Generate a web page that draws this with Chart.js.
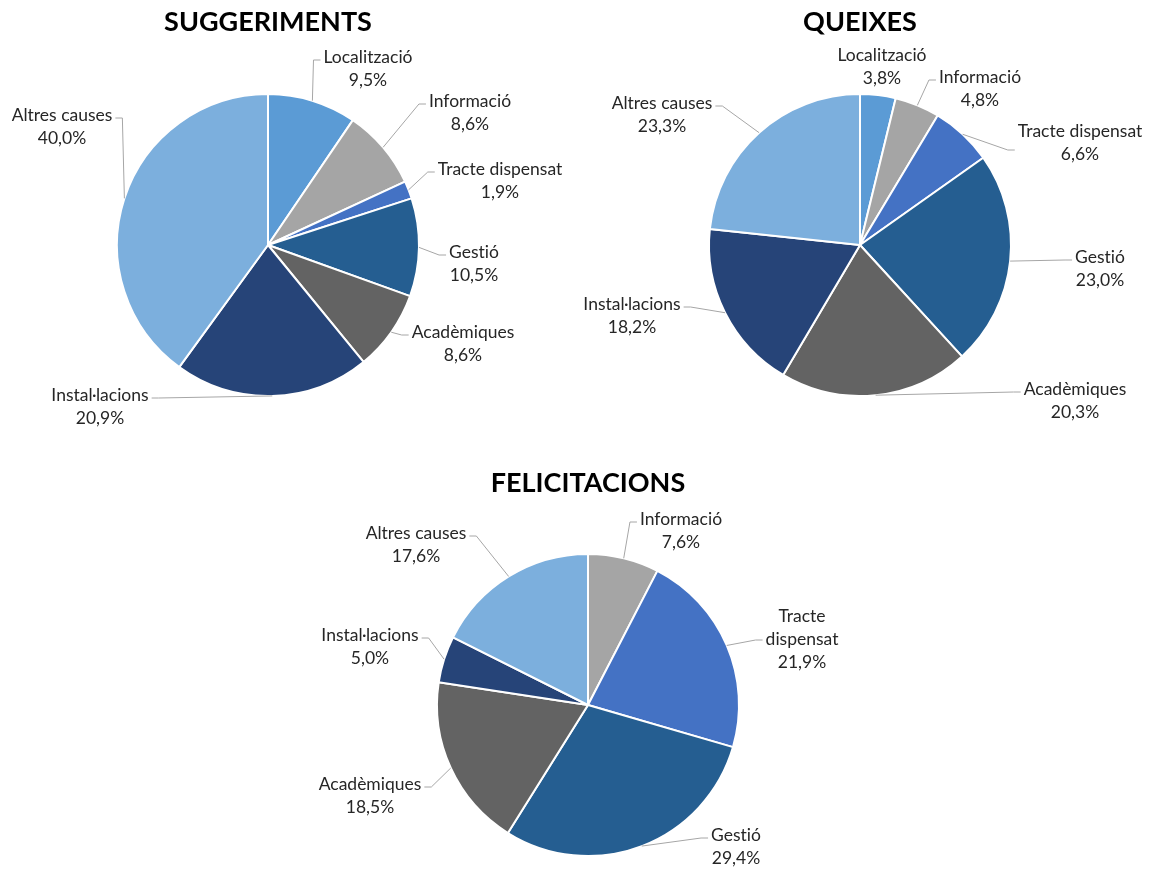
<!DOCTYPE html>
<html>
<head>
<meta charset="utf-8">
<script src="https://cdn.jsdelivr.net/npm/chart.js@4.4.1/dist/chart.umd.min.js"></script>
<style>
  html, body { margin: 0; padding: 0; background: #fff; }
  #page { position: relative; width: 1163px; height: 870px; overflow: hidden; }
  .box { position: absolute; }
</style>
</head>
<body>
<div id="page">
  <div class="box" style="left:-52px; top:0; width:640px; height:440px;"><canvas id="sugg"></canvas></div>
  <div class="box" style="left:540px; top:0; width:640px; height:440px;"><canvas id="queix"></canvas></div>
  <div class="box" style="left:268px; top:460px; width:640px; height:410px;"><canvas id="felic"></canvas></div>
</div>
<script>
// data (percentages)
const categories = ['Localització', 'Informació', 'Tracte dispensat', 'Gestió', 'Acadèmiques', 'Instal·lacions', 'Altres causes'];
const suggeriments = [9.5, 8.6, 1.9, 10.5, 8.6, 20.9, 40.0];
const queixes = [3.8, 4.8, 6.6, 23.0, 20.3, 18.2, 23.3];
const felicitacions = [0, 7.6, 21.9, 29.4, 18.5, 5.0, 17.6];

const palette = ['#5b9bd5', '#a5a5a5', '#4472c4', '#255e91', '#636363', '#264478', '#7cafdd'];

// where each callout sits, relative to the pie centre (first text line centre)
const suggLabelPos = [
  { dx: 100, dy: -188 }, { dx: 202, dy: -144 }, { dx: 232, dy: -76 }, { dx: 206, dy: 7 },
  { dx: 195, dy: 87 }, { dx: -168, dy: 150 }, { dx: -206, dy: -130 }
];
const queixLabelPos = [
  { dx: 22, dy: -190 }, { dx: 120, dy: -168 }, { dx: 220, dy: -114, ty: 19 }, { dx: 240, dy: 12 },
  { dx: 215, dy: 144 }, { dx: -228, dy: 59 }, { dx: -198, dy: -142 }
];
const felicLabelPos = [
  null, { dx: 93, dy: -186 }, { dx: 214, dy: -89, wrap: 90, ty: 24 }, { dx: 148, dy: 130 },
  { dx: -218, dy: 79 }, { dx: -218, dy: -70 }, { dx: -172, dy: -172 }
];

const LABEL_FONT = '17.5px Lato';
const LINE_H = 23;

const fmtPct = v => v.toFixed(1).replace('.', ',') + '%';

function wrapText(ctx, text, maxW) {
  if (!maxW) return [text];
  const words = text.split(' ');
  const lines = [];
  let cur = '';
  words.forEach(w => {
    const test = cur ? cur + ' ' + w : w;
    if (cur && ctx.measureText(test).width > maxW) {
      lines.push(cur);
      cur = w;
    } else {
      cur = test;
    }
  });
  if (cur) lines.push(cur);
  return lines;
}

// draws Excel-like callouts with leader lines
const calloutLabels = {
  id: 'calloutLabels',
  afterDatasetsDraw(chart, args, opts) {
    const ctx = chart.ctx;
    const meta = chart.getDatasetMeta(0);
    const values = chart.data.datasets[0].data;
    ctx.save();
    ctx.font = LABEL_FONT;
    ctx.textRendering = 'optimizeSpeed'; // no "ti" ligature
    meta.data.forEach((arc, i) => {
      const pos = opts.positions[i];
      if (!pos || !values[i]) return;
      const p = arc.getProps(['x', 'y', 'startAngle', 'endAngle', 'outerRadius'], true);
      const mid = (p.startAngle + p.endAngle) / 2;
      const ax = p.x + Math.cos(mid) * p.outerRadius;
      const ay = p.y + Math.sin(mid) * p.outerRadius;

      const lines = wrapText(ctx, chart.data.labels[i], pos.wrap).concat([fmtPct(values[i])]);
      const cx = p.x + pos.dx;
      const y1 = p.y + pos.dy;
      const w = Math.max(...lines.map(l => ctx.measureText(l).width));
      const left = cx - w / 2 - 3, right = cx + w / 2 + 3;
      const top = y1 - LINE_H / 2, bottom = y1 + (lines.length - 0.5) * LINE_H;
      const ty = y1 + (pos.ty !== undefined ? pos.ty : 3);

      // leader line
      let pts = null;
      if (ax < left) pts = [[left - 7, ty], [left, ty]];
      else if (ax > right) pts = [[right + 7, ty], [right, ty]];
      else if (ay > bottom + 12) pts = [[ax, bottom]];
      else if (ay < top - 12) pts = [[ax, top]];
      if (pts) {
        ctx.strokeStyle = '#a6a6a6';
        ctx.lineWidth = 1;
        ctx.beginPath();
        ctx.moveTo(ax, ay);
        pts.forEach(pt => ctx.lineTo(pt[0], pt[1]));
        ctx.stroke();
      }

      ctx.fillStyle = '#262626';
      ctx.textAlign = 'center';
      ctx.textBaseline = 'middle';
      lines.forEach((l, k) => ctx.fillText(l, cx, y1 + k * LINE_H));
    });
    ctx.restore();
  }
};

function makePie(id, title, values, positions, titlePad, bottomPad) {
  return new Chart(document.getElementById(id), {
    type: 'pie',
    data: {
      labels: categories,
      datasets: [{
        data: values,
        backgroundColor: palette,
        borderColor: '#ffffff',
        borderWidth: 2,
        hoverBorderWidth: 2,
        hoverOffset: 0
      }]
    },
    options: {
      responsive: true,
      maintainAspectRatio: false,
      animation: false,
      events: [],
      layout: { padding: { top: 0, left: 0, right: 0, bottom: bottomPad } },
      plugins: {
        legend: { display: false },
        tooltip: { enabled: false },
        title: {
          display: true,
          text: title,
          color: '#000',
          font: { family: 'Lato', size: 27, weight: 'bold' },
          padding: titlePad
        },
        calloutLabels: { positions: positions }
      }
    },
    plugins: [calloutLabels]
  });
}

makePie('sugg', 'SUGGERIMENTS', suggeriments, suggLabelPos, { top: 5.8, bottom: 54.8 }, 43);
makePie('queix', 'QUEIXES', queixes, queixLabelPos, { top: 5.8, bottom: 54.8 }, 43);
makePie('felic', 'FELICITACIONS', felicitacions, felicLabelPos, { top: 7.2, bottom: 53.4 }, 13);
</script>
</body>
</html>
